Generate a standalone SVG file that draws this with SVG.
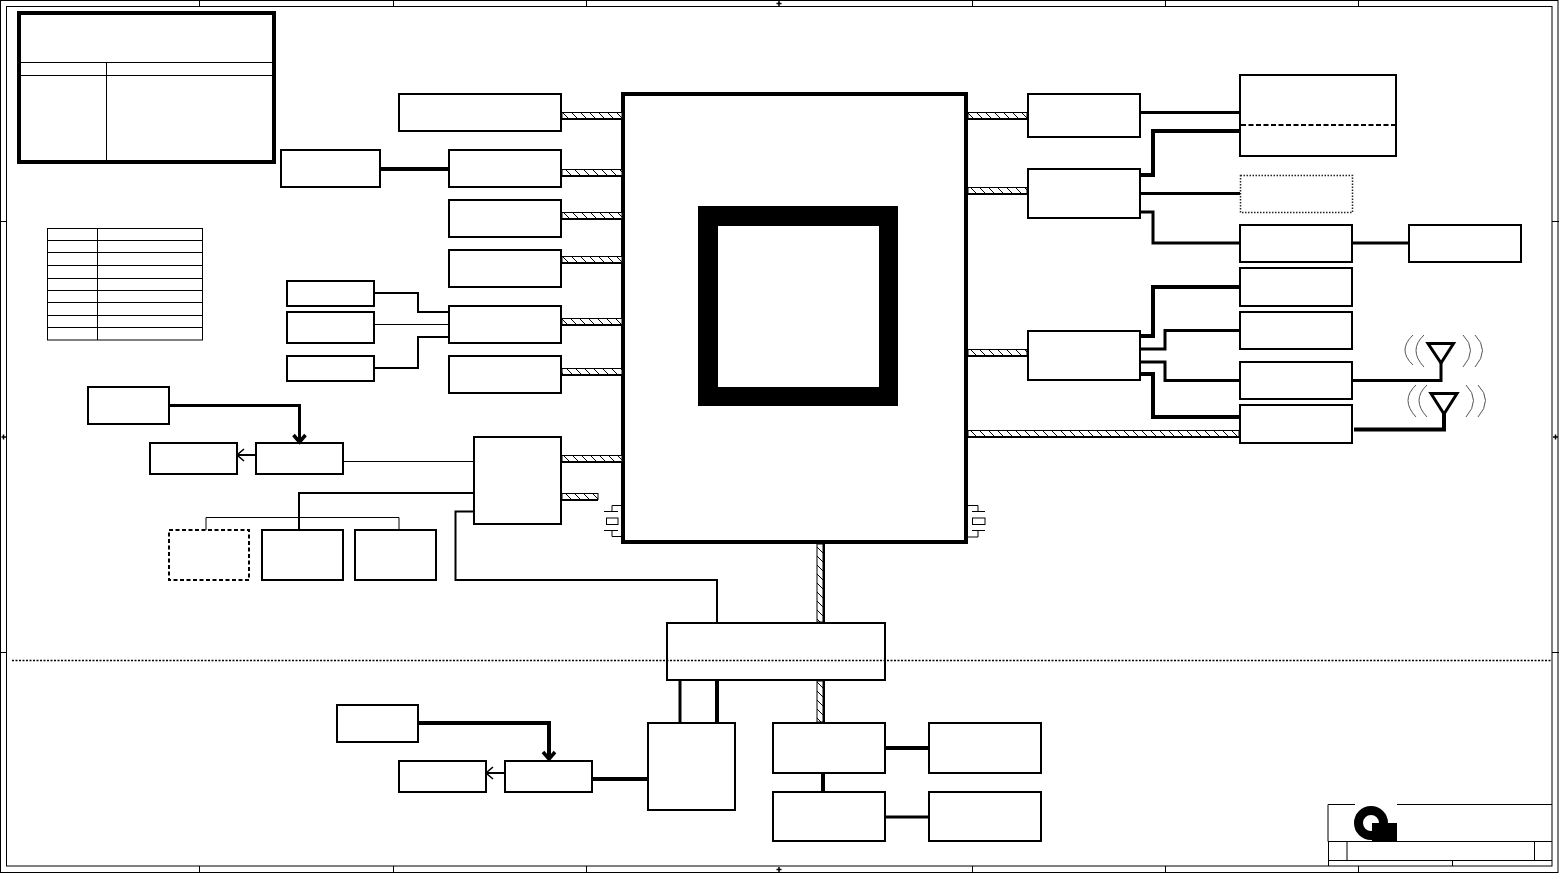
<svg xmlns="http://www.w3.org/2000/svg" width="1559" height="874" viewBox="0 0 1559 874">
<style>
.n{fill:#fff;stroke:#000;stroke-width:2}
.t{fill:none;stroke:#000;stroke-width:1}
.c{fill:none;stroke:#000;stroke-linejoin:miter}
.w1{stroke-width:1}.w2{stroke-width:2}.w3{stroke-width:3}.w4{stroke-width:4}
.b{fill:url(#hatch);stroke:#000;stroke-width:1}
.a{fill:none;stroke:#555;stroke-width:1}
</style>
<defs>
<pattern id="hatch" patternUnits="userSpaceOnUse" width="9" height="9"><rect width="9" height="9" fill="#fff"/><path d="M-1 -1L10 10M-5.500 3.500L5.500 14.500M3.500 -5.500L14.500 5.500" stroke="#000" stroke-width="1"/></pattern>
<marker id="ah" markerUnits="userSpaceOnUse" markerWidth="16" markerHeight="16" refX="13" refY="8" orient="auto"><path d="M6 2L13 8L6 14" fill="none" stroke="#000" stroke-width="1.6"/></marker>
<marker id="ahb" markerUnits="userSpaceOnUse" markerWidth="18" markerHeight="18" refX="14" refY="9" orient="auto"><path d="M7 3L14 9L7 15" fill="none" stroke="#000" stroke-width="3.5"/></marker>
</defs>
<rect width="1559" height="874" fill="#fff"/>
<g id="frame">
<rect x="0.500" y="0.500" width="1557.500" height="872" fill="none" stroke="#000" stroke-width="1"/>
<rect x="6.500" y="6.500" width="1545.500" height="859.500" fill="none" stroke="#000" stroke-width="1"/>
<path d="M199.500 0V6M393.500 0V6M586.500 0V6M972.500 0V6M1165.500 0V6M1358.500 0V6M199.500 866V873M393.500 866V873M586.500 866V873M972.500 866V873M1165.500 866V873M1358.500 866V873M0 221.500H6M0 652.500H6M1552 221.500H1559M1552 652.500H1559" stroke="#000" stroke-width="1" fill="none"/>
<path d="M779 1V6M776.500 3.500H781.500M779 867V872M776.500 869.500H781.500M1.500 437H6M3.500 434.500V439.500M1553 437H1558M1555.500 434.500V439.500" stroke="#000" stroke-width="1.500" fill="none"/>
</g>
<g id="revision-table">
<rect x="19" y="13" width="255" height="149" fill="#fff" stroke="#000" stroke-width="4"/>
<path class="t" d="M20 62.500H273M20 75.500H273M106.500 62V161"/>
</g>
<g id="legend-table">
<rect x="47.500" y="228.500" width="155" height="111.500" fill="#fff" stroke="#000" stroke-width="1"/>
<path d="M97.500 228V340M47 240.500H202M47 252.500H202M47 265.500H202M47 278.500H202M47 290.500H202M47 302.500H202M47 315.500H202M47 327.500H202" fill="none" stroke="#000" stroke-width="1"/>
</g>
<rect id="n-a1" class="n" x="399" y="94" width="162" height="37"/>
<rect id="n-a2" class="n" x="449" y="150" width="112" height="37"/>
<rect id="n-a3" class="n" x="281" y="150" width="99" height="37"/>
<rect id="n-a4" class="n" x="449" y="200" width="112" height="37"/>
<rect id="n-a5" class="n" x="449" y="250" width="112" height="37"/>
<rect id="n-a6" class="n" x="449" y="306" width="112" height="37"/>
<rect id="n-a7" class="n" x="449" y="356" width="112" height="37"/>
<rect id="n-b1" class="n" x="287" y="281" width="87" height="25"/>
<rect id="n-b2" class="n" x="287" y="312" width="87" height="31"/>
<rect id="n-b3" class="n" x="287" y="356" width="87" height="25"/>
<rect id="n-c1" class="n" x="88" y="387" width="81" height="37"/>
<rect id="n-c2" class="n" x="150" y="443" width="87" height="31"/>
<rect id="n-c3" class="n" x="256" y="443" width="87" height="31"/>
<rect id="n-c4" class="n" x="474" y="437" width="87" height="87"/>
<rect id="n-c5" class="n" x="169" y="530" width="80" height="50" stroke-dasharray="4 2.500"/>
<rect id="n-c6" class="n" x="262" y="530" width="81" height="50"/>
<rect id="n-c7" class="n" x="355" y="530" width="81" height="50"/>
<g id="n-cpu">
<rect x="623" y="94" width="343" height="448" fill="#fff" stroke="#000" stroke-width="4"/>
<path fill="#000" fill-rule="evenodd" d="M698 206H898V406H698ZM718 226V387H879V226Z"/>
</g>
<rect id="n-d1" class="n" x="1028" y="94" width="112" height="43"/>
<rect id="n-d2" class="n" x="1028" y="169" width="112" height="49"/>
<g id="n-e1">
<rect class="n" x="1240" y="75" width="156" height="81"/>
<path d="M1241 125H1395" stroke="#000" stroke-width="2" stroke-dasharray="5 2.500"/>
</g>
<rect id="n-e2" x="1240.500" y="175.500" width="112" height="37" fill="#fff" stroke="#222" stroke-width="1.500" stroke-dasharray="1.500 1.500"/>
<rect id="n-e3" class="n" x="1240" y="225" width="112" height="37"/>
<rect id="n-e4" class="n" x="1409" y="225" width="112" height="37"/>
<rect id="n-e5" class="n" x="1240" y="268" width="112" height="38"/>
<rect id="n-e6" class="n" x="1240" y="312" width="112" height="37"/>
<rect id="n-e7" class="n" x="1240" y="362" width="112" height="37"/>
<rect id="n-e8" class="n" x="1240" y="405" width="112" height="38"/>
<rect id="n-d3" class="n" x="1028" y="331" width="112" height="49"/>
<rect id="n-f1" class="n" x="667" y="623" width="218" height="57"/>
<rect id="n-f2" class="n" x="648" y="723" width="87" height="87"/>
<rect id="n-f3" class="n" x="773" y="723" width="112" height="50"/>
<rect id="n-f4" class="n" x="929" y="723" width="112" height="50"/>
<rect id="n-f5" class="n" x="773" y="792" width="112" height="49"/>
<rect id="n-f6" class="n" x="929" y="792" width="112" height="49"/>
<rect id="n-g1" class="n" x="337" y="705" width="81" height="37"/>
<rect id="n-g2" class="n" x="399" y="761" width="87" height="31"/>
<rect id="n-g3" class="n" x="505" y="761" width="87" height="31"/>
<g id="connectors">
<rect class="b" x="562" y="112.500" width="60" height="6"/>
<rect class="b" x="562" y="169.500" width="60" height="6"/>
<rect class="b" x="562" y="212.500" width="60" height="6"/>
<rect class="b" x="562" y="256.500" width="60" height="6"/>
<rect class="b" x="562" y="318.500" width="60" height="6"/>
<rect class="b" x="562" y="368.500" width="60" height="6"/>
<rect class="b" x="562" y="455.500" width="60" height="6"/>
<rect class="b" x="562" y="493.500" width="36" height="6"/>
<rect class="b" x="968" y="112.500" width="59" height="6"/>
<rect class="b" x="968" y="187.500" width="59" height="6"/>
<rect class="b" x="968" y="349.500" width="59" height="6"/>
<rect class="b" x="968" y="430.500" width="271" height="6"/>
<rect class="b" x="817" y="544" width="6" height="78"/>
<rect class="b" x="817" y="681" width="6" height="41"/>
<path class="c w2" d="M562 119H622M562 176H622M562 219H622M562 263H622M562 325H622M562 375H622M562 462H622M562 500H598M968 119H1027M968 194H1027M968 356H1027M968 437H1239M824 544V622M824 681V722"/>
<path class="c w4" d="M380 169H449"/>
<path class="c w3" d="M1140 112.500H1240"/>
<path class="c w4" d="M1140 175H1153V131H1240"/>
<path class="c w3" d="M1140 193.500H1240"/>
<path class="c w3" d="M1140 212H1153V243H1240"/>
<path class="c w3" d="M1352 243H1409"/>
<path class="c w4" d="M1140 336H1153V287H1240"/>
<path class="c w3" d="M1140 349H1165V330.500H1240"/>
<path class="c w3" d="M1140 362H1165V380.500H1240"/>
<path class="c w4" d="M1140 374H1153V417H1240"/>
<path class="c w3" d="M1352 380.500H1441V361"/>
<path class="c w3" d="M1428 343.500H1453.500L1441 363Z"/>
<path class="c w4" d="M1354 429.500H1444V413"/>
<path class="c w3" d="M1431 393.500H1457L1444 414Z"/>
<path class="a" d="M1413 335Q1397 350 1413 365M1424 335Q1408 350 1424 367M1463 335Q1478 350 1463 367M1475 335Q1490 350 1475 367"/>
<path class="a" d="M1416 385Q1400 400 1416 417M1427 385Q1411 400 1427 417M1466 385Q1481 400 1466 417M1478 385Q1493 400 1478 417"/>
<path class="c w2" d="M374 293H418V312H449"/>
<path class="c w1" d="M374 324.500H449"/>
<path class="c w2" d="M374 368H418V337H449"/>
<path class="c w3" d="M169 405.500H299.500V442" marker-end="url(#ahb)"/>
<path class="c w2" d="M256 455H237" marker-end="url(#ah)"/>
<path class="c w1" d="M343 461.500H474"/>
<path class="c w2" d="M474 493H299V530"/>
<path class="c w1" d="M206 530V517.500H399V530"/>
<path class="c w2" d="M474 511.500H455.500V580H717V623"/>
<path class="c w4" d="M418 723H549V759" marker-end="url(#ahb)"/>
<path class="c w2" d="M505 773H486" marker-end="url(#ah)"/>
<path class="c w4" d="M592 779H648"/>
<path class="c w3" d="M680 680V723"/>
<path class="c w4" d="M717 680V723"/>
<path class="c w4" d="M885 748H929"/>
<path class="c w4" d="M823 773V792"/>
<path class="c w3" d="M885 817H929"/>
<path d="M621 505.500H612V511M604 511.500H618M612 536.500V530.500M604 530.500H618M621 536.500H612" fill="none" stroke="#000" stroke-width="1"/>
<rect x="606.500" y="518" width="11.500" height="6.500" fill="#fff" stroke="#000" stroke-width="1"/>
<path d="M968 505.500H978V511M972 511.500H985M978 537H968M978 530.500V537M972 530.500H985" fill="none" stroke="#000" stroke-width="1"/>
<rect x="972.500" y="518" width="12.500" height="6.500" fill="#fff" stroke="#000" stroke-width="1"/>
<path d="M12 660.500H1552" fill="none" stroke="#000" stroke-width="1.500" stroke-dasharray="2 1.500"/>
</g>
<g id="title-block">
<path d="M1328 841.500V804.500H1355M1397 804.500H1552M1328 841.500H1552M1328.500 841V866M1347 841V860M1534.500 841V860M1328 860.500H1552M1452.500 860V866" fill="none" stroke="#000" stroke-width="1"/>
<circle cx="1371" cy="823" r="12.500" fill="none" stroke="#000" stroke-width="9"/>
<rect x="1372" y="823" width="25" height="19" fill="#000"/>
</g>
</svg>
